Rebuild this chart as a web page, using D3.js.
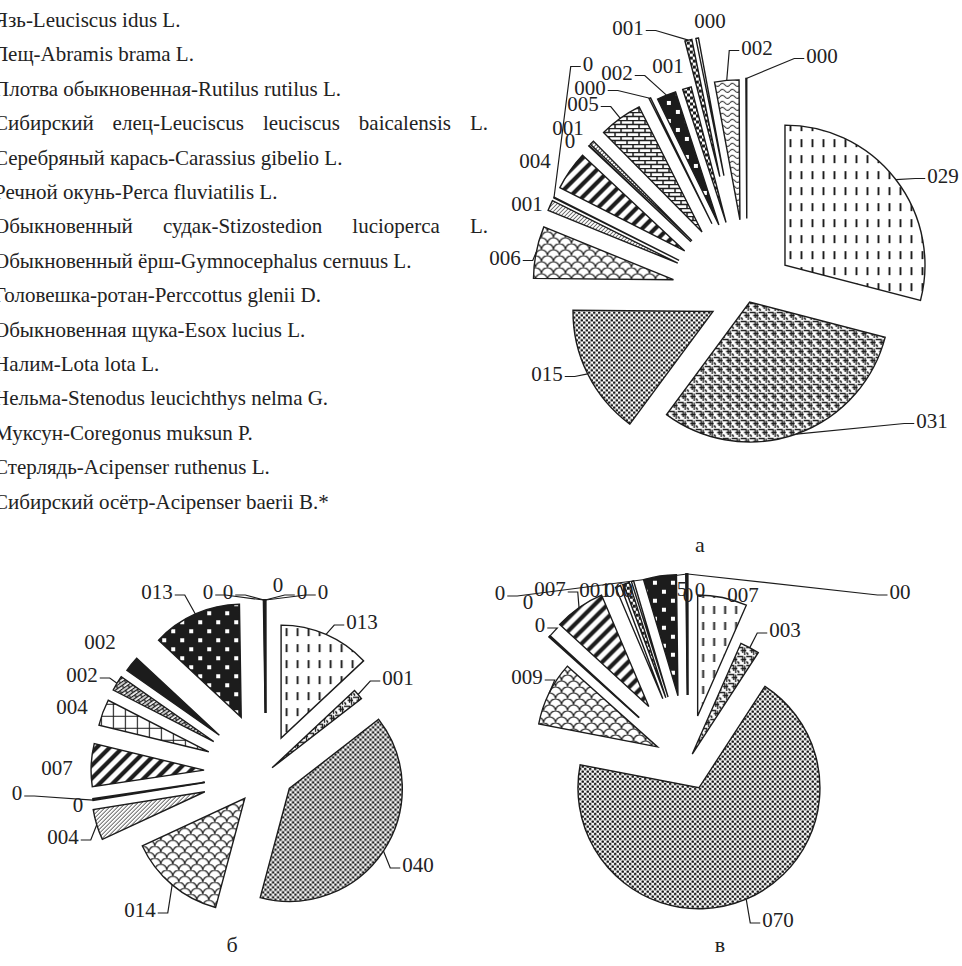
<!DOCTYPE html>
<html>
<head>
<meta charset="utf-8">
<script src="https://cdn.jsdelivr.net/npm/d3@7"></script>
<style>
  body { margin: 0; background: #fff; }
  text { font-family: "Liberation Serif", "Times New Roman", serif; fill: #222; }
</style>
</head>
<body>
<svg id="chart" width="962" height="966"></svg>
<script>
var width = 962,
    height = 966;

// species list (legend, no swatches in the original crop)
var species = [
  "Язь-Leuciscus idus L.",
  "Лещ-Abramis brama L.",
  "Плотва обыкновенная-Rutilus rutilus L.",
  "Сибирский елец-Leuciscus leuciscus  baicalensis L.",
  "Серебряный карась-Carassius gibelio L.",
  "Речной окунь-Perca fluviatilis L.",
  "Обыкновенный  судак-Stizostedion   lucioperca  L.",
  "Обыкновенный ёрш-Gymnocephalus cernuus L.",
  "Головешка-ротан-Perccottus glenii  D.",
  "Обыкновенная щука-Esox lucius L.",
  "Налим-Lota lota L.",
  "Нельма-Stenodus leucichthys nelma G.",
  "Муксун-Coregonus muksun P.",
  "Стерлядь-Acipenser ruthenus L.",
  "Сибирский осётр-Acipenser baerii B.*"
];
// lines that are stretched to the right margin
var justified = {3: 488, 6: 488};

// pie "а"
var labelsA = ["029", "031", "015", "006", "001", "0", "004", "0", "001", "005", "000", "002", "001", "001", "000", "002", "000"];
var valuesA = [29, 31, 15, 6, 1.2, 0.1, 4.5, 0.1, 0.5, 5, 0.2, 2.2, 1.0, 0.8, 0.3, 2.8, 0.1];
var patternsA = ["vdash", "weave", "dots", "scales", "fine", "none", "stripes", "none", "fine", "brick", "none", "blacksq", "checker", "checker", "none", "wavy", "none"];

// pie "б"
var labelsB = ["013", "001", "040", "014", "004", "0", "0", "007", "004", "002", "002", "013", "0", "0", "0", "0", "0"];
var valuesB = [13, 1.5, 39.6, 13.9, 4.4, 0.1, 0.1, 6.1, 3.75, 2.2, 2.2, 12.8, 0.05, 0.05, 0.05, 0.05, 0.05];
var patternsB = ["vdash", "weave", "dots", "scales", "fine", "none", "none", "stripes", "cross", "lattice", "solid", "blacksq", "none", "none", "none", "none", "none"];

// pie "в"
var labelsC = ["007", "003", "070", "009", "0", "0", "007", "001", "00", "0", "5", "0", "0", "0", "00"];
var valuesC = [6.6, 2.6, 69.0, 8.6, 0.1, 0.1, 6.8, 0.7, 0.8, 0.3, 4.4, 0.05, 0.05, 0.05, 0.05];
var patternsC = ["vdash", "weave", "dots", "scales", "none", "none", "stripes", "none", "checker", "none", "blacksq", "none", "none", "none", "none"];

var captions = ["а", "б", "в"];

// layout: centre, radius, explosion per slice, label offsets
var pies = [
  { labels: labelsA, values: valuesA, patterns: patternsA, cx: 747, cy: 294.5, r: 140,
    explode: [48, 8, 38, 75, 76, 76, 76, 77, 77, 77, 79, 75, 75, 121, 121, 75, 76],
    lab: [[196,-119],[185,126],[-200,79],[-242,-37],[-220,-91],[-159,-231],[-212,-134],[-177,-154],[-179,-167],[-164,-191],[-157,-207],[-130,-222],[-79,-229],[-119,-267],[-37,-274],[10,-247],[75,-239]],
    leader: [1,1,1,1,0,1,0,0,0,1,1,1,0,1,0,1,1],
    caption: [700, 552] },
  { labels: labelsB, values: valuesB, patterns: patternsB, cx: 266, cy: 773, r: 113,
    explode: [38, 8, 28, 33, 64, 62, 62, 62, 61, 61, 60, 61, 60, 60, 60, 60, 60],
    lab: [[96,-151],[132,-95],[152,92],[-126,137],[-203,64],[-249,20],[-188,32],[-209,-5],[-194,-66],[-184,-98],[-166,-131],[-109,-181],[-58,-181],[-38,-181],[12,-188],[36,-181],[57,-181]],
    leader: [1,1,1,1,1,1,0,0,0,1,0,1,1,1,0,1,1],
    caption: [232, 952] },
  { labels: labelsC, values: valuesC, patterns: patternsC, cx: 688, cy: 762, r: 121,
    explode: [47, 9, 28, 34, 66, 66, 68, 68, 68, 68, 67, 67, 67, 67, 67],
    lab: [[55,-167],[97,-132],[90,158],[-161,-85],[-148,-137],[-160,-160],[-138,-173],[-93,-172],[-73,-172],[-60,-172],[-6,-173],[0,-167],[12,-172],[-188,-169],[212,-170]],
    leader: [0,1,1,1,1,0,1,0,0,0,0,0,0,1,1],
    caption: [720, 952] }
];

var svg = d3.select("#chart");
var defs = svg.append("defs");
var ink = "#1c1c1c";

function pattern(id, w, h, bg, draw) {
  var p = defs.append("pattern")
      .attr("id", id)
      .attr("patternUnits", "userSpaceOnUse")
      .attr("width", w)
      .attr("height", h);
  p.append("rect").attr("width", w).attr("height", h).attr("fill", bg);
  draw(p);
  return p;
}

pattern("vdash", 11, 16, "#fff", function (p) {
  p.append("line").attr("x1", 5.5).attr("x2", 5.5).attr("y1", 2).attr("y2", 10)
      .attr("stroke", ink).attr("stroke-width", 1.9);
});
pattern("weave", 9, 9, "#fff", function (p) {
  p.append("path").attr("d", "M0,1.5 H5.5 V7 M3.5,4.5 H9 M-1,7 H1.5 M7.5,1.5 V9 M1.5,7 V10")
      .attr("stroke", ink).attr("stroke-width", 1.3).attr("fill", "none");
});
pattern("dots", 5, 5, "#fff", function (p) {
  p.append("circle").attr("cx", 1.25).attr("cy", 1.25).attr("r", 1.35).attr("fill", ink);
  p.append("circle").attr("cx", 3.75).attr("cy", 3.75).attr("r", 1.35).attr("fill", ink);
});
pattern("scales", 24, 12, "#fff", function (p) {
  p.append("path")
      .attr("d", "M0,6 A6,6 0 0,1 12,6 A6,6 0 0,1 24,6 M-6,12 A6,6 0 0,1 6,12 A6,6 0 0,1 18,12 A6,6 0 0,1 30,12 M-6,0 A6,6 0 0,1 6,0 A6,6 0 0,1 18,0 A6,6 0 0,1 30,0")
      .attr("stroke", ink).attr("stroke-width", 1.2).attr("fill", "none");
});
pattern("fine", 4, 4, "#fff", function (p) {
  p.append("path").attr("d", "M0,4 L4,0 M-1,1 L1,-1 M3,5 L5,3")
      .attr("stroke", ink).attr("stroke-width", 0.9);
});
pattern("stripes", 13, 13, "#fff", function (p) {
  p.append("path").attr("d", "M0,13 L13,0 M-4,4 L4,-4 M9,17 L17,9")
      .attr("stroke", ink).attr("stroke-width", 4.2);
});
pattern("brick", 12, 8, "#fff", function (p) {
  p.append("path").attr("d", "M0,0.5 H12 M0,4.5 H12 M3,0.5 V4.5 M9,4.5 V8.5")
      .attr("stroke", ink).attr("stroke-width", 1.5);
});
pattern("blacksq", 18, 18, ink, function (p) {
  p.append("rect").attr("x", 2).attr("y", 2).attr("width", 4).attr("height", 4).attr("fill", "#fff");
  p.append("rect").attr("x", 11).attr("y", 11).attr("width", 4).attr("height", 4).attr("fill", "#fff");
});
pattern("checker", 6, 6, "#fff", function (p) {
  p.append("rect").attr("width", 3).attr("height", 3).attr("fill", ink);
  p.append("rect").attr("x", 3).attr("y", 3).attr("width", 3).attr("height", 3).attr("fill", ink);
});
pattern("wavy", 10, 6, "#fff", function (p) {
  p.append("path").attr("d", "M0,3 Q2.5,0 5,3 T10,3")
      .attr("stroke", ink).attr("stroke-width", 1.1).attr("fill", "none");
});
pattern("cross", 12, 12, "#fff", function (p) {
  p.append("path").attr("d", "M0,0.5 H12 M0.5,0 V12")
      .attr("stroke", ink).attr("stroke-width", 1.2);
});
pattern("lattice", 10, 6, "#fff", function (p) {
  p.append("path").attr("d", "M0,0.5 H10 M0,3.5 H10 M2,0.5 V3.5 M7,3.5 V6.5")
      .attr("stroke", ink).attr("stroke-width", 1.3);
}).attr("patternTransform", "rotate(-35)");

function fillFor(name) {
  if (name === "none") return "#fff";
  if (name === "solid") return ink;
  return "url(#" + name + ")";
}

// legend
var legend = svg.append("g").attr("class", "legend");
species.forEach(function (s, i) {
  var line = s.replace(/\s+/g, " ");
  var t = legend.append("text")
      .attr("x", -6)
      .attr("y", 27 + i * 34.4)
      .attr("font-size", 21)
      .text(line);
  if (justified[i]) {
    var natural = t.node().getComputedTextLength();
    var gaps = line.split(" ").length - 1;
    t.attr("word-spacing", (justified[i] + 6 - natural) / gaps);
  }
});

// pies
pies.forEach(function (cfg, k) {
  var pie = d3.pie().sort(null).value(function (d) { return d; });
  var arcs = pie(cfg.values);
  var arc = d3.arc().innerRadius(0).outerRadius(cfg.r);
  var g = svg.append("g").attr("transform", "translate(" + cfg.cx + "," + cfg.cy + ")");

  function shift(d, i) {
    var a = (d.startAngle + d.endAngle) / 2;
    return [cfg.explode[i] * Math.sin(a), -cfg.explode[i] * Math.cos(a)];
  }

  g.selectAll("path.slice")
    .data(arcs)
    .enter().append("path")
      .attr("class", "slice")
      .attr("transform", function (d, i) {
        var s = shift(d, i);
        return "translate(" + s[0] + "," + s[1] + ")";
      })
      .attr("d", arc)
      .attr("fill", function (d, i) { return fillFor(cfg.patterns[i]); })
      .attr("stroke", ink)
      .attr("stroke-width", 1.4)
      .attr("stroke-linejoin", "miter");

  // labels
  var labels = g.selectAll("text.lab")
    .data(arcs)
    .enter().append("text")
      .attr("class", "lab")
      .attr("x", function (d, i) { return cfg.lab[i][0]; })
      .attr("y", function (d, i) { return cfg.lab[i][1]; })
      .attr("dy", "0.35em")
      .attr("text-anchor", "middle")
      .attr("font-size", 21)
      .text(function (d, i) { return cfg.labels[i]; });

  // leader lines from the outer edge of the slice to the label
  labels.each(function (d, i) {
    if (!cfg.leader[i]) return;
    var a = (d.startAngle + d.endAngle) / 2,
        rr = cfg.r + cfg.explode[i],
        ax = rr * Math.sin(a),
        ay = -rr * Math.cos(a),
        half = this.getComputedTextLength() / 2 + 2,
        lx = cfg.lab[i][0],
        ly = cfg.lab[i][1] + 3,
        dir = ax > lx ? 1 : -1,
        sx = lx + dir * half;
    g.append("path")
      .attr("d", d3.line()([[sx, ly], [sx + dir * 10, ly], [ax, ay]]))
      .attr("fill", "none")
      .attr("stroke", ink)
      .attr("stroke-width", 1.2);
  });

  svg.append("text")
    .attr("x", cfg.caption[0])
    .attr("y", cfg.caption[1])
    .attr("text-anchor", "middle")
    .attr("font-size", 22)
    .text(captions[k]);
});
</script>
</body>
</html>
